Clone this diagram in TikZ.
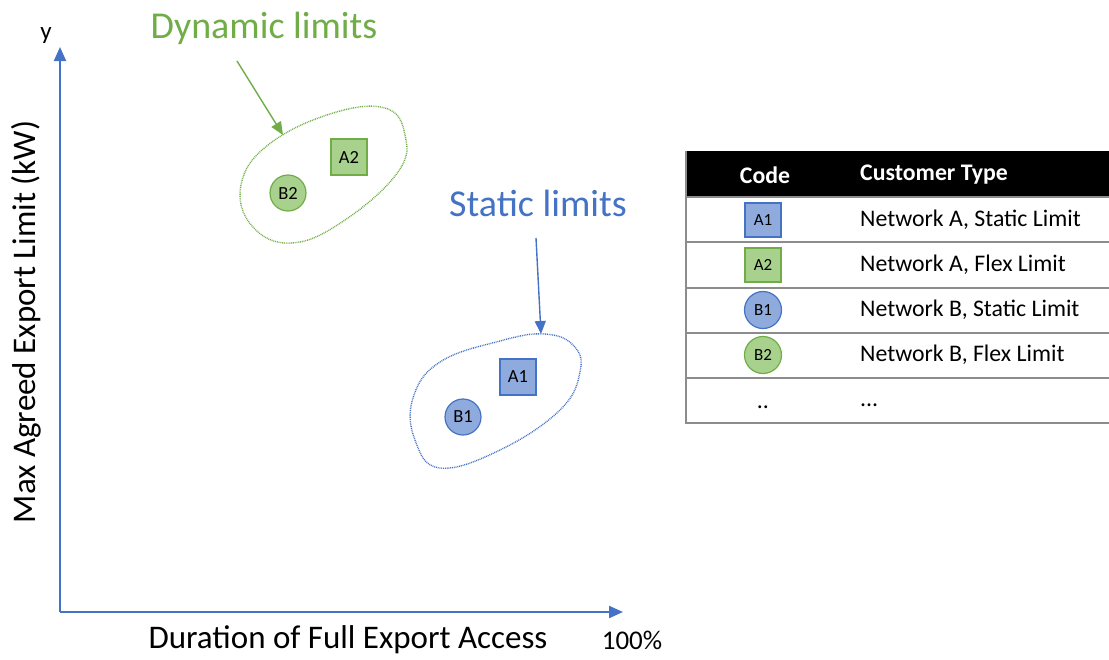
\documentclass[tikz,border=0pt]{standalone}
\usepackage{fontspec}
\setmainfont{Carlito}
\usetikzlibrary{arrows.meta}
\definecolor{blueE}{HTML}{4472C4}
\definecolor{blueF}{HTML}{8FAADC}
\definecolor{greenE}{HTML}{70AD47}
\definecolor{greenF}{HTML}{A9D18E}
\definecolor{rule}{HTML}{8C8C8C}
\tikzset{
  axis/.style={blueE, line width=2.2pt, -{Triangle[length=14pt,width=12pt]}},
  callout/.style={line width=1.4pt, -{Triangle[length=13pt,width=11pt]}},
  blob/.style={line width=1.4pt, dash pattern=on 0.9pt off 0.9pt},
  sqbox/.style={rectangle, line width=1.2pt, minimum width=36pt, minimum height=36pt, inner sep=0pt, font=\fontsize{18.5}{20}\selectfont},
  dot/.style={circle, line width=1.2pt, minimum size=36pt, inner sep=0pt, font=\fontsize{18.5}{20}\selectfont},
  sqA/.style={sqbox, draw=blueE, fill=blueF},
  sqG/.style={sqbox, draw=greenE, fill=greenF},
  dotA/.style={dot, draw=blueE, fill=blueF},
  dotG/.style={dot, draw=greenE, fill=greenF},
  keybox/.style={sqbox, minimum width=36pt, minimum height=34pt, font=\fontsize{17}{19}\selectfont},
  keydot/.style={dot, minimum size=37pt, font=\fontsize{17}{19}\selectfont},
  cell/.style={anchor=west, inner sep=0pt, font=\fontsize{23.8}{26}\selectfont},
  head/.style={inner sep=0pt, text=white, font=\fontsize{23.8}{26}\selectfont\bfseries},
  title/.style={font=\fontsize{38}{42}\selectfont},
  tablerule/.style={rule, line width=1.6pt}
}
\begin{document}
\begin{tikzpicture}[x=1pt,y=-1pt]
\useasboundingbox (0,0) rectangle (1109,659);

% axes
\coordinate (O) at (60,612);
\coordinate (ytip) at (60,47);
\coordinate (xtip) at (623,612);
\draw[axis] (O) -- (ytip);
\draw[axis] (O) -- (xtip);
\node[font=\fontsize{25}{28}\selectfont] (ylab) at (46,36) {y};
\node[font=\fontsize{33}{36}\selectfont] (xname) at (348,640) {Duration of Full Export Access};
\node[font=\fontsize{27}{30}\selectfont] (xmax) at (632,640) {100\%};
\node[font=\fontsize{33}{36}\selectfont, rotate=90] (yname) at (26,322) {Max Agreed Export Limit (kW)};

% dynamic group
\node[title, text=greenE] (dyn) at (264,28) {Dynamic limits};
\draw[blob, greenE] plot[smooth cycle, tension=0.7] coordinates
  {(241,185) (268,145) (330,114) (385,108) (405,135) (398,172) (345,220) (292,243) (252,226)};
\coordinate (dynfrom) at (237,61);
\coordinate (dynto) at (283,135);
\draw[callout, greenE] (dynfrom) -- (dynto);
\node[sqG] (A2) at (349,157) {A2};
\node[dotG] (B2) at (288,193) {B2};

% static group
\node[title, text=blueE] (stat) at (538,203) {Static limits};
\draw[blob, blueE] plot[smooth cycle, tension=0.7] coordinates
  {(413,398) (440,362) (500,341) (545,334) (574,346) (580,372) (560,410) (500,450) (440,468) (415,440)};
\coordinate (statfrom) at (536,238);
\coordinate (statto) at (541,334);
\draw[callout, blueE] (statfrom) -- (statto);
\node[sqA] (A1) at (518,377) {A1};
\node[dotA] (B1) at (463,417) {B1};

% key table
\fill[black] (686,151) rectangle (1109,197);
\node[head] (hcode) at (765,175) {Code};
\node[head, anchor=west] (htype) at (860,175) {Customer Type};
\foreach \yy in {197,242,288,333,378,423}
  \draw[tablerule] (686,\yy) -- (1109,\yy);
\draw[tablerule] (686,151) -- (686,424);

\node[keybox, draw=blueE, fill=blueF] (kA1) at (763,220) {A1};
\node[cell] (tA1) at (860,220) {Network A, Static Limit};
\node[keybox, draw=greenE, fill=greenF] (kA2) at (763,265) {A2};
\node[cell] (tA2) at (860,265) {Network A, Flex Limit};
\node[keydot, draw=blueE, fill=blueF] (kB1) at (763,310) {B1};
\node[cell] (tB1) at (860,310) {Network B, Static Limit};
\node[keydot, draw=greenE, fill=greenF] (kB2) at (763,355) {B2};
\node[cell] (tB2) at (860,355) {Network B, Flex Limit};
\node[cell, anchor=center] (kmore) at (763,407) {..};
\node[cell] (tmore) at (860,405) {...};
\end{tikzpicture}
\end{document}
